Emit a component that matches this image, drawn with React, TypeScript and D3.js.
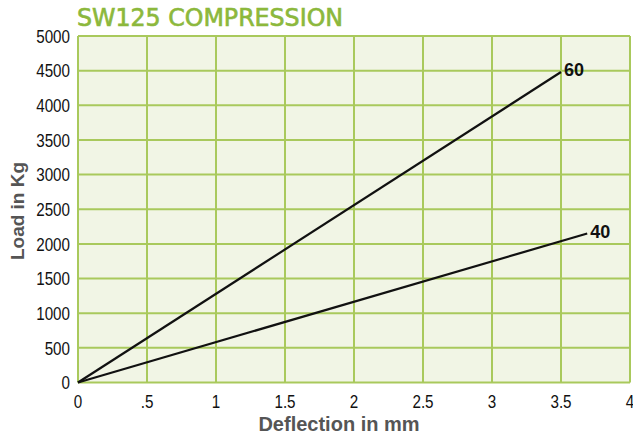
import React from "react";
import * as d3 from "d3";

const xTicks = [0, 0.5, 1, 1.5, 2, 2.5, 3, 3.5, 4];
const xTickLabels = ["0", ".5", "1", "1.5", "2", "2.5", "3", "3.5", "4"];
const yTicks = [0, 500, 1000, 1500, 2000, 2500, 3000, 3500, 4000, 4500, 5000];
const seriesNames = ["60", "40"];
const series60 = [[0, 0], [3.5, 4480]];
const series40 = [[0, 0], [3.69, 2150]];

const W = 633, H = 439;
const m = { left: 78, right: 630, top: 36, bottom: 382.5 };

export default function App() {
  const x = d3.scaleLinear().domain([0, 4]).range([m.left, m.right]);
  const y = d3.scaleLinear().domain([0, 5000]).range([m.bottom, m.top]);
  const line = d3.line<number[]>().x(d => x(d[0])).y(d => y(d[1]));
  const grid = "#a9c95c";
  const tickFont = "'Liberation Sans', Arial, sans-serif";
  const sx = 0.8;
  const all = [series60, series40];
  return (
    <svg width={W} height={H} style={{ position: "absolute", left: 0, top: 0, background: "#fff" }}>
      <text x={77} y={26} fill="#8cb83c" stroke="#8cb83c" strokeWidth={0.6} fontSize={24} fontFamily="'DejaVu Sans Condensed', 'Open Sans', sans-serif" textLength={266} lengthAdjust="spacingAndGlyphs">SW125 COMPRESSION</text>
      <rect x={m.left} y={m.top} width={m.right - m.left} height={m.bottom - m.top} fill="#f1f5e5" />
      {xTicks.map((t, i) => (
        <line key={"gx" + i} x1={x(t)} x2={x(t)} y1={m.top} y2={m.bottom} stroke={grid} strokeWidth={2} />
      ))}
      {yTicks.map((t, i) => (
        <line key={"gy" + i} x1={m.left} x2={m.right} y1={y(t)} y2={y(t)} stroke={grid} strokeWidth={2} />
      ))}
      {yTicks.map((t, i) => (
        <text key={"ty" + i} transform={`translate(70, ${y(t)}) scale(${sx}, 1)`} dy="0.35em" textAnchor="end" fontSize={19} fontFamily={tickFont} fill="#111">{t}</text>
      ))}
      {xTicks.map((t, i) => (
        <text key={"tx" + i} transform={`translate(${x(t)}, 408) scale(${sx}, 1)`} textAnchor="middle" fontSize={19} fontFamily={tickFont} fill="#111">{xTickLabels[i]}</text>
      ))}
      {all.map((s, i) => (
        <path key={"s" + i} d={line(s) || ""} fill="none" stroke="#111" strokeWidth={2.2} />
      ))}
      {all.map((s, i) => (
        <text key={"l" + i} x={x(s[1][0]) + 3} y={y(s[1][1]) + 4} fontSize={18} fontWeight="bold" fontFamily="Arial, 'Liberation Sans', sans-serif" fill="#111">{seriesNames[i]}</text>
      ))}
      <text x={339} y={431} textAnchor="middle" fontSize={20} fontWeight="bold" fontFamily="Arial, 'Liberation Sans', sans-serif" fill="#555">Deflection in mm</text>
      <text transform={`translate(24, 211) rotate(-90)`} textAnchor="middle" fontSize={19} fontWeight="bold" fontFamily="Arial, 'Liberation Sans', sans-serif" fill="#555">Load in Kg</text>
    </svg>
  );
}
